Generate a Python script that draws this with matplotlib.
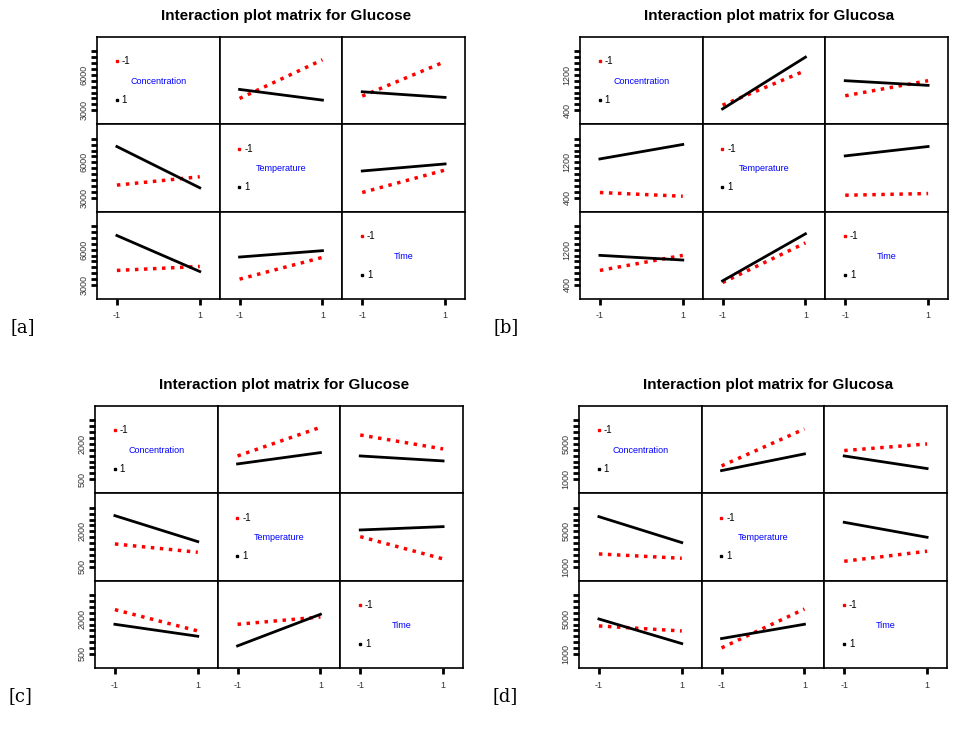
import numpy as np
import matplotlib.pyplot as plt

factors = ['Concentration', 'Temperature', 'Time']
levels = [-1, 1]
titles = ['Interaction plot matrix for Glucose', 'Interaction plot matrix for Glucosa',
          'Interaction plot matrix for Glucose', 'Interaction plot matrix for Glucosa']
tags = ['[a]', '[b]', '[c]', '[d]']
# y labels shown per panel (low, high)
ylabels = [(3000, 6000), (400, 1200), (500, 2000), (1000, 5000)]

# per panel: {(row, col): (red [-1 level], black [1 level])}
panel_a = {(0, 1): ([4000, 7290], [4770, 3860]),
           (0, 2): ([4200, 7140], [4570, 4090]),
           (1, 0): ([4060, 4770], [7340, 3830]),
           (1, 2): ([3430, 5340], [5260, 5860]),
           (2, 0): ([4230, 4570], [7200, 4140]),
           (2, 1): ([3490, 5340], [5370, 5910])}
panel_b = {(0, 1): ([514, 1299], [430, 1604]),
           (0, 2): ([728, 1070], [1070, 964]),
           (1, 0): ([514, 430], [1276, 1604]),
           (1, 2): ([453, 491], [1345, 1558]),
           (2, 0): ([728, 1070], [1070, 964]),
           (2, 1): ([453, 1352], [491, 1558])}
panel_c = {(0, 1): ([1490, 2707], [1151, 1632]),
           (0, 2): ([2382, 1788], [1490, 1278]),
           (1, 0): ([1462, 1108], [2665, 1561]),
           (1, 2): ([1773, 825], [2056, 2198]),
           (2, 0): ([2382, 1476], [1759, 1250]),
           (2, 1): ([1759, 2070], [840, 2184])}
panel_d = {(0, 1): ([2510, 6700], [1980, 3870]),
           (0, 2): ([4250, 5000], [3640, 2210]),
           (1, 0): ([2430, 1940], [6660, 3720]),
           (1, 2): ([1600, 2740], [6020, 4320]),
           (2, 0): ([4170, 3600], [4960, 2170]),
           (2, 1): ([1680, 6090], [2740, 4360])}
panels = [panel_a, panel_b, panel_c, panel_d]

W, H = 968, 732
fig = plt.figure(figsize=(W / 100, H / 100), dpi=100)
plt.rcParams['font.family'] = ['Liberation Sans', 'DejaVu Sans']

# grid origin (left, top) in pixels for each panel
origins = [(97, 37), (580, 37), (95, 406), (579, 406)]
gw, gh = 368, 262
cw, ch = gw / 3, gh / 3

for p in range(4):
    x0, y0 = origins[p]
    lo, hi = ylabels[p]
    unit = (hi - lo) / 105.0
    ylim = (lo - 42 * unit, lo + 218 * unit)
    ticks = lo + np.arange(11) * (hi - lo) / 6.0
    fig.text((x0 + gw / 2 + 5) / W, 1 - (y0 - 21) / H, titles[p], ha='center',
             va='center', fontsize=11, fontweight='bold')
    fig.text((x0 - 87) / W, 1 - (y0 + 290) / H, tags[p], ha='left', va='center',
             fontsize=13, family='DejaVu Serif')
    for r in range(3):
        for c in range(3):
            ax = fig.add_axes([(x0 + c * cw) / W, 1 - (y0 + (r + 1) * ch) / H, cw / W, ch / H])
            ax.set_xlim(-1.48, 1.48)
            ax.set_ylim(*ylim)
            for s in ax.spines.values():
                s.set_linewidth(1.2)
            if r == c:
                ax.plot([0.16], [0.72], 's', color='red', ms=2, transform=ax.transAxes)
                ax.plot([0.16], [0.28], 's', color='black', ms=2, transform=ax.transAxes)
                ax.text(0.2, 0.72, '-1', transform=ax.transAxes, fontsize=7, va='center')
                ax.text(0.2, 0.28, '1', transform=ax.transAxes, fontsize=7, va='center')
                ax.text(0.5, 0.49, factors[r], transform=ax.transAxes, fontsize=6.5,
                        color='blue', ha='center', va='center')
            else:
                red, black = panels[p][(r, c)]
                ax.plot(levels, red, color='red', lw=2.5, ls=(0, (1, 1.6)))
                ax.plot(levels, black, color='black', lw=2)
            if c == 0:
                ax.set_yticks(ticks)
                ax.set_yticklabels([f'{t:.0f}' if np.isclose(t, lo) or np.isclose(t, hi) else ''
                                    for t in ticks], rotation=90, va='center', fontsize=6.5,
                                   color='#333333')
                ax.tick_params(axis='y', length=4, width=2, pad=2)
            else:
                ax.set_yticks([])
            if r == 2:
                ax.set_xticks(levels)
                ax.set_xticklabels(['-1', '1'], fontsize=6.5, color='#333333')
                ax.tick_params(axis='x', length=4, width=2, pad=5)
            else:
                ax.set_xticks([])

fig.savefig('out.png', dpi=100)
